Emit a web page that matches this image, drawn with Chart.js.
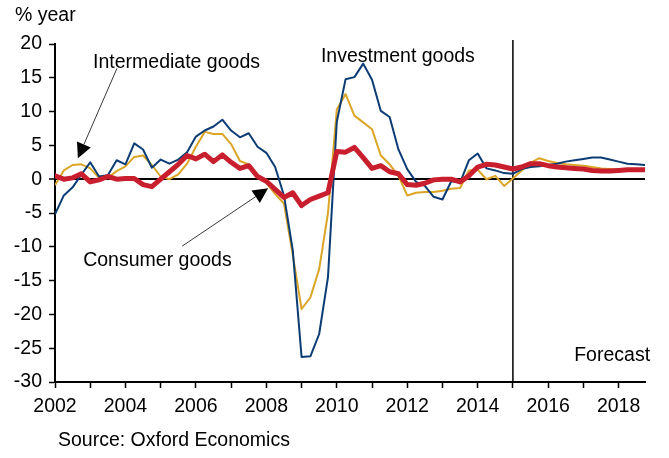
<!DOCTYPE html>
<html>
<head>
<meta charset="utf-8">
<script src="https://cdn.jsdelivr.net/npm/chart.js@4/dist/chart.umd.min.js"></script>
<style>
html,body{margin:0;padding:0;background:#fff;}
#wrap{width:669px;height:458px;position:relative;}
</style>
</head>
<body>
<div id="wrap"><canvas id="c" width="669" height="458"></canvas></div>
<script>
// ---- Data (quarterly, % year) ----
const firstYear = 2002;
const lastYear = 2018;
const quarters = [];
for (let yr = firstYear; yr <= lastYear; yr++) { for (let q = 1; q <= 4; q++) quarters.push(yr + 'Q' + q); }

const investmentGoods = [
 -5.2,-2.4,-1.2,0.7, 2.5,0.4,0.6,2.8, 2.2,5.3,4.4,1.7, 2.9,2.3,2.9,4.0,
 6.3,7.2,7.8,8.8, 7.2,6.2,6.8,4.8, 3.9,1.8,-2.4,-10.5, -26.3,-26.2,-22.9,-14.5,
 8.5,14.8,15.1,17.1, 14.7,10.1,9.2,4.4, 1.5,-0.4,-1.0,-2.6, -3.0,-0.3,-0.5,2.8,
 3.8,1.6,1.3,0.9, 0.8,1.5,1.8,1.9, 2.1,2.3,2.6,2.8, 3.0,3.2,3.2,2.9,
 2.6,2.3,2.2,2.1
];
const intermediateGoods = [
 -0.9,1.3,2.1,2.2, 1.6,0.2,0.2,1.2, 1.9,3.3,3.5,2.1, 0.4,0.0,0.7,2.3,
 4.8,7.0,6.7,6.7, 5.2,2.7,2.2,0.4, -0.5,-2.2,-3.6,-11.2, -19.2,-17.5,-13.3,-5.0,
 10.3,12.6,9.4,8.4, 7.4,3.5,2.2,0.5, -2.4,-2.0,-1.9,-1.9, -1.7,-1.4,-1.3,1.3,
 1.4,0.0,0.5,-1.0, 0.1,1.3,2.4,3.1, 2.7,2.4,2.2,2.1, 2.0,1.8,1.6,1.5,
 1.4,1.4,1.4,1.4
];
const consumerGoods = [
 0.5,0.0,0.2,0.8, -0.4,-0.1,0.4,0.0, 0.1,0.1,-0.8,-1.1, 0.0,1.1,2.2,3.5,
 3.0,3.7,2.6,3.6, 2.5,1.6,2.0,0.4, -0.3,-1.5,-2.7,-2.0, -3.9,-3.0,-2.5,-2.0,
 4.1,4.0,4.7,3.2, 1.6,2.0,1.1,0.8, -0.8,-0.9,-0.6,-0.1, 0.0,0.0,-0.4,0.5,
 1.8,2.2,2.1,1.8, 1.5,1.8,2.3,2.3, 2.0,1.8,1.7,1.6, 1.5,1.3,1.2,1.2,
 1.3,1.4,1.4,1.4
];
const forecastStart = '2015Q1';
const yTicks = { min: -30, max: 20, step: 5 };

// ---- helpers ----
const qToNum = s => Number(s.slice(0,4)) + (Number(s.slice(5)) - 1) / 4;
const pts = arr => arr.map((v, i) => ({ x: qToNum(quarters[i]), y: v }));

const FONT_FAMILY = "'Liberation Sans', Arial, sans-serif";
const FS = 19.5;
const FONT = FS + 'px ' + FONT_FAMILY;

const notes = [
  { text: 'Intermediate goods', x: 2003.08, y: 16.5 },
  { text: 'Investment goods',   x: 2009.55, y: 17.3 },
  { text: 'Consumer goods',     x: 2002.80, y: -12.84 },
  { text: 'Forecast',           x: 2016.74, y: -26.9 }
];
const arrows = [
  { from: [2003.76, 16.4], to: [2002.65, 3.1], len: 15, half: 7.5 },
  { from: [2005.61, -9.9], to: [2008.05, -1.35], len: 15, half: 7.5 }
];

function drawArrow(ctx, x1, y1, x2, y2, L, W) {
  const a = Math.atan2(y2 - y1, x2 - x1);
  const bx = x2 - L * Math.cos(a), by = y2 - L * Math.sin(a);
  ctx.beginPath(); ctx.moveTo(x1, y1); ctx.lineTo(bx, by); ctx.stroke();
  ctx.beginPath();
  ctx.moveTo(x2, y2);
  ctx.lineTo(bx + W * Math.sin(a), by - W * Math.cos(a));
  ctx.lineTo(bx - W * Math.sin(a), by + W * Math.cos(a));
  ctx.closePath(); ctx.fill();
}

const notesPlugin = {
  id: 'notes',
  afterDraw(chart) {
    const { ctx, chartArea } = chart;
    const xs = chart.scales.x, ys = chart.scales.y;
    ctx.save();
    ctx.font = FONT;
    ctx.fillStyle = '#000';
    ctx.textBaseline = 'alphabetic';
    ctx.textAlign = 'left';
    notes.forEach(n => ctx.fillText(n.text, xs.getPixelForValue(n.x), ys.getPixelForValue(n.y)));
    ctx.fillText('% year', chartArea.left - 40, chartArea.top - 23);
    ctx.fillText('Source: Oxford Economics', chartArea.left + 3, chartArea.bottom + 64);
    ctx.strokeStyle = '#222';
    ctx.fillStyle = '#000';
    ctx.lineWidth = 0.9;
    arrows.forEach(a => drawArrow(ctx,
      xs.getPixelForValue(a.from[0]), ys.getPixelForValue(a.from[1]),
      xs.getPixelForValue(a.to[0]), ys.getPixelForValue(a.to[1]), a.len, a.half));
    ctx.restore();
  }
};

new Chart(document.getElementById('c'), {
  type: 'line',
  data: {
    datasets: [
      { label: 'Consumer goods', data: pts(consumerGoods), borderColor: '#C81E2D', borderWidth: 5, order: 0,
        pointRadius: 0, tension: 0, borderJoinStyle: 'round', borderCapStyle: 'round', fill: false },
      { label: 'Investment goods', data: pts(investmentGoods), borderColor: '#0B3C74', borderWidth: 2, order: 1,
        pointRadius: 0, tension: 0, borderJoinStyle: 'round', fill: false },
      { label: 'Intermediate goods', data: pts(intermediateGoods), borderColor: '#DBA526', borderWidth: 2, order: 2,
        pointRadius: 0, tension: 0, borderJoinStyle: 'round', fill: false },
      { label: 'Forecast', data: [{ x: qToNum(forecastStart), y: yTicks.min }, { x: qToNum(forecastStart), y: 20.6 }],
        borderColor: '#000', borderWidth: 1.5, order: 3, pointRadius: 0, clip: false, fill: false }
    ]
  },
  options: {
    responsive: false,
    animation: false,
    devicePixelRatio: 1,
    layout: { padding: { top: 44, right: 24, bottom: 0, left: 0 } },
    plugins: { legend: { display: false }, tooltip: { enabled: false }, title: { display: false } },
    scales: {
      x: {
        type: 'linear',
        min: qToNum(quarters[0]),
        max: qToNum(quarters[quarters.length - 1]),
        ticks: {
          stepSize: 1, includeBounds: false, autoSkip: false, maxRotation: 0, minRotation: 0,
          color: '#000', font: { family: FONT_FAMILY, size: FS }, padding: 7,
          callback: v => Number.isInteger(v) ? (v % 2 === 0 ? String(v) : '') : null
        },
        border: { display: true, color: '#000', width: 2 },
        grid: { drawOnChartArea: false, drawTicks: true, tickLength: 6, tickColor: '#000', tickWidth: 1.5, color: '#000' },
        afterFit: s => { s.height = 76; }
      },
      y: {
        min: yTicks.min, max: yTicks.max,
        ticks: { stepSize: yTicks.step, color: '#000', font: { family: FONT_FAMILY, size: FS }, padding: 7 },
        border: { display: true, color: '#000', width: 2 },
        grid: {
          drawOnChartArea: true, drawTicks: true, tickLength: 6, tickColor: '#000', tickWidth: 1.5,
          color: c => (c.tick && c.tick.value === 0) ? '#000' : 'rgba(0,0,0,0)',
          lineWidth: c => (c.tick && c.tick.value === 0) ? 2 : 1
        },
        afterFit: s => { s.width = 55; }
      }
    }
  },
  plugins: [notesPlugin]
});
</script>
</body>
</html>
